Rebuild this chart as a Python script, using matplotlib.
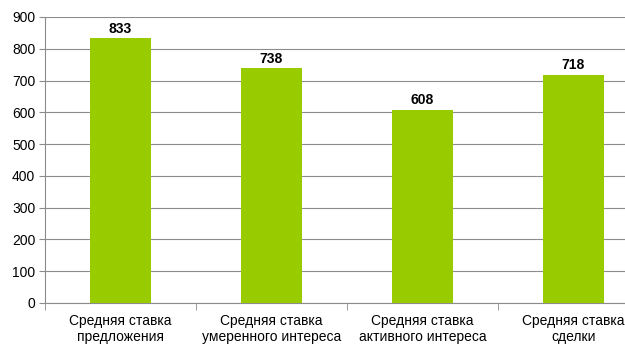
import matplotlib
matplotlib.use('Agg')
import matplotlib.pyplot as plt
import numpy as np

categories = ["Средняя ставка\nпредложения", "Средняя ставка\nумеренного интереса",
              "Средняя ставка\nактивного интереса", "Средняя ставка\nсделки"]
values = [833, 738, 608, 718]

plt.rcParams['font.family'] = ['Liberation Sans', 'DejaVu Sans']

fig = plt.figure(figsize=(6.25, 3.56), dpi=100)
# axes run a bit past the right edge, like the original
ax = fig.add_axes([45 / 625, 1 - 303 / 356, 604 / 625, (303 - 17) / 356])

x = np.arange(len(categories))
bars = ax.bar(x, values, width=0.4, color="#99CC00", zorder=3)
for b, v in zip(bars, values):
    ax.text(b.get_x() + b.get_width() / 2, v + 8, str(v), ha='center', va='bottom',
            fontsize=10, fontweight='bold', color='black')

ax.set_xlim(-0.5, len(categories) - 0.5)
ax.set_ylim(0, 900)
ax.set_yticks(range(0, 901, 100))
ax.yaxis.grid(True, color='#8c8c8c', linewidth=0.8, zorder=0)

ax.set_xticks(x)
ax.set_xticklabels(categories, fontsize=10)
ax.set_xticks(np.arange(len(categories) + 1) - 0.5, minor=True)
ax.tick_params(axis='x', which='major', length=0, pad=8)
ax.tick_params(axis='x', which='minor', length=5, color='#8c8c8c')
ax.tick_params(axis='y', length=4, color='#8c8c8c', labelsize=10, pad=3)

for s in ['top', 'right']:
    ax.spines[s].set_visible(False)
for s in ['left', 'bottom']:
    ax.spines[s].set_color('#8c8c8c')
    ax.spines[s].set_linewidth(0.8)

fig.savefig("out.png", dpi=100)
